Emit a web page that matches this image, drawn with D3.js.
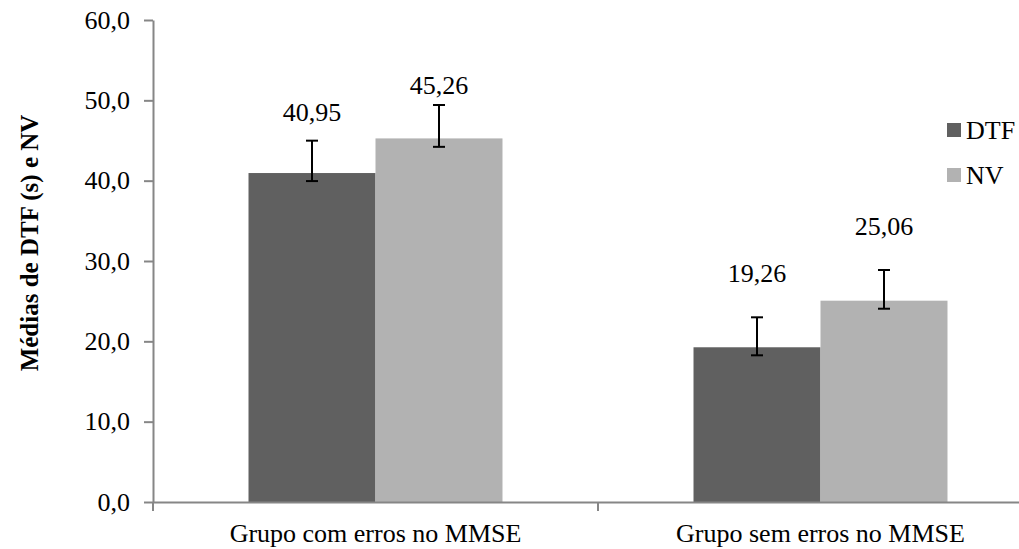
<!DOCTYPE html>
<html>
<head>
<meta charset="utf-8">
<script src="https://cdn.jsdelivr.net/npm/d3@7"></script>
<style>
  html, body { margin: 0; padding: 0; background: #fff; }
  svg, svg text { font-family: "Liberation Serif", "Times New Roman", "DejaVu Serif", serif !important; }
</style>
</head>
<body>
<svg id="chart" width="1019" height="549"></svg>
<script>
// ---- data ----
const categories = ["Grupo com erros no MMSE", "Grupo sem erros no MMSE"];
const seriesNames = ["DTF", "NV"];
const dtfValues = [40.95, 19.26];
const nvValues = [45.26, 25.06];
const dtfErrPlus = [4.03, 3.73];
const dtfErrMinus = [1.0, 1.0];
const nvErrPlus = [4.16, 3.82];
const nvErrMinus = [1.05, 1.0];
const dtfLabels = ["40,95", "19,26"];
const nvLabels = ["45,26", "25,06"];
const yTicks = [0, 10, 20, 30, 40, 50, 60];
const yTickLabels = ["0,0", "10,0", "20,0", "30,0", "40,0", "50,0", "60,0"];
const yTitle = "Médias de DTF (s) e NV";

// ---- layout / style ----
const colors = { DTF: "#606060", NV: "#b2b2b2" };
const axisColor = "#868686";
const fontSize = 26;
const plot = { left: 153, right: 1043, top: 20, bottom: 502 };
// extra lift (px) of each value label above its error bar top: [category][series]
const labelLift = [[20, 11], [35, 35]];

const series = [
  { name: "DTF", values: dtfValues, plus: dtfErrPlus, minus: dtfErrMinus, labels: dtfLabels },
  { name: "NV", values: nvValues, plus: nvErrPlus, minus: nvErrMinus, labels: nvLabels }
];

const svg = d3.select("#chart");

const y = d3.scaleLinear().domain([0, 60]).range([plot.bottom, plot.top]);
const x0 = d3.scaleBand().domain(categories).range([plot.left, plot.right]).paddingInner(0).paddingOuter(0);
const x1 = d3.scaleBand().domain(seriesNames).range([0, x0.bandwidth()]).paddingInner(0).paddingOuter(0.752);

// bars
const groups = svg.append("g").selectAll("g")
  .data(categories)
  .join("g")
  .attr("transform", d => `translate(${x0(d)},0)`);

groups.each(function(cat, ci) {
  const g = d3.select(this);
  series.forEach((s) => {
    const v = s.values[ci];
    g.append("rect")
      .attr("x", x1(s.name))
      .attr("y", y(v))
      .attr("width", x1.bandwidth())
      .attr("height", y(0) - y(v))
      .attr("fill", colors[s.name]);
  });
});

// axes
const yAxis = d3.axisLeft(y).tickValues(yTicks)
  .tickFormat((d, i) => yTickLabels[i])
  .tickSize(9).tickSizeOuter(0).tickPadding(14);
const gy = svg.append("g").attr("transform", `translate(${plot.left},0)`).call(yAxis);
gy.attr("font-family", null);
gy.select(".domain").attr("stroke", axisColor).attr("stroke-width", 2);
gy.selectAll(".tick line").attr("stroke", axisColor).attr("stroke-width", 2);
gy.selectAll(".tick text").attr("font-size", fontSize).attr("fill", "#000");

const xAxis = d3.axisBottom(x0).tickSize(0).tickSizeOuter(0).tickPadding(22);
const gx = svg.append("g").attr("transform", `translate(0,${plot.bottom})`).call(xAxis);
gx.attr("font-family", null);
gx.select(".domain").attr("stroke", axisColor).attr("stroke-width", 2);
gx.selectAll(".tick text").attr("font-size", fontSize).attr("fill", "#000");
// category boundary ticks
const boundaries = categories.map(c => x0(c)).concat([x0(categories[categories.length - 1]) + x0.bandwidth()]);
gx.selectAll(".bound").data(boundaries).join("line")
  .attr("class", "bound")
  .attr("x1", d => d).attr("x2", d => d)
  .attr("y1", 0).attr("y2", 9)
  .attr("stroke", axisColor).attr("stroke-width", 2);

// error bars and labels
groups.each(function(cat, ci) {
  const g = d3.select(this);
  series.forEach((s, si) => {
    const v = s.values[ci];
    const cx = x1(s.name) + x1.bandwidth() / 2;
    const hi = v + s.plus[ci], lo = v - s.minus[ci];
    g.append("line").attr("x1", cx).attr("x2", cx).attr("y1", y(hi)).attr("y2", y(lo))
      .attr("stroke", "#000").attr("stroke-width", 2);
    [hi, lo].forEach(e => {
      g.append("line").attr("x1", cx - 6).attr("x2", cx + 6).attr("y1", y(e)).attr("y2", y(e))
        .attr("stroke", "#000").attr("stroke-width", 2);
    });
    g.append("text")
      .attr("x", cx)
      .attr("y", y(hi) - labelLift[ci][si])
      .attr("text-anchor", "middle")
      .attr("font-size", fontSize)
      .attr("fill", "#000")
      .text(s.labels[ci]);
  });
});

// y title
svg.append("text")
  .attr("transform", `translate(38,243) rotate(-90)`)
  .attr("text-anchor", "middle")
  .attr("font-size", 25)
  .attr("font-weight", "bold")
  .attr("fill", "#000")
  .text(yTitle);

// legend
const legend = svg.append("g").attr("transform", "translate(947,123)");
seriesNames.forEach((n, i) => {
  const lg = legend.append("g").attr("transform", `translate(0,${i * 45})`);
  lg.append("rect").attr("width", 14).attr("height", 14).attr("fill", colors[n]);
  lg.append("text").attr("x", 19).attr("y", 16).attr("font-size", fontSize).attr("fill", "#000").text(n);
});
</script>
</body>
</html>
